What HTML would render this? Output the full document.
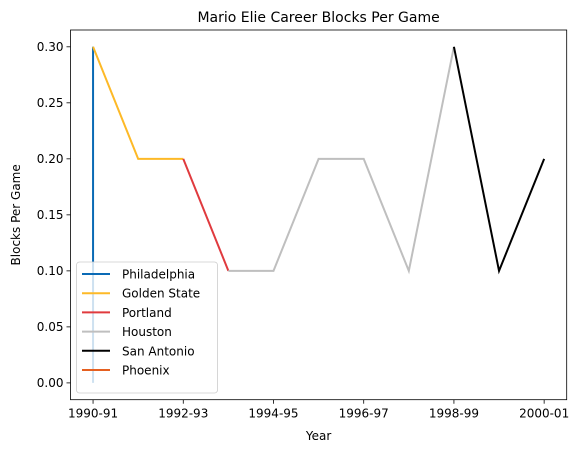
<!DOCTYPE html>
<html><head><meta charset="utf-8"><style>
html,body{margin:0;padding:0;background:#fff;}
svg{display:block;font-family:"DejaVu Sans","Liberation Sans",sans-serif;}
</style></head><body>
<svg id="chart" width="582" height="453"></svg>
<script>
const seasons = ["1990-91","1991-92","1992-93","1993-94","1994-95","1995-96","1996-97","1997-98","1998-99","1999-00","2000-01"];
const teamNames = ["Philadelphia","Golden State","Portland","Houston","San Antonio","Phoenix"];
const teamColors = ["#0a6ab5","#fdb927","#e03a3e","#bfbfbf","#000000","#e56020"];
const teamX = [[0,0],[0,1,2],[2,3],[3,4,5,6,7,8],[8,9,10],[0]];
const teamY = [[0.3,0.0],[0.3,0.2,0.2],[0.2,0.1],[0.1,0.1,0.2,0.2,0.1,0.3],[0.3,0.1,0.2],[0.0]];
const yTicks = [0,0.05,0.1,0.15,0.2,0.25,0.3];
const xTickIdx = [0,2,4,6,8,10];

const NS="http://www.w3.org/2000/svg";
const svg=document.getElementById('chart');
const L=70.5,R=566.7,T=30,B=399.7;
const xMin=-0.5,xMax=10.5,yMin=-0.015,yMax=0.315;
const xs=v=>L+(v-xMin)/(xMax-xMin)*(R-L);
const ys=v=>B-(v-yMin)/(yMax-yMin)*(B-T);
function mk(tag,attrs,parent){const e=document.createElementNS(NS,tag);for(const k in attrs)e.setAttribute(k,attrs[k]);(parent||svg).appendChild(e);return e;}

const title=mk('text',{x:(L+R)/2,y:22,'text-anchor':'middle','font-size':14});
title.textContent="Mario Elie Career Blocks Per Game";



yTicks.forEach(v=>{
  const y=ys(v);
  const t=mk('line',{x1:L-4,x2:L,y1:y,y2:y,stroke:'#000','stroke-width':0.8});
  
  
  const l=mk('text',{x:L-7,y:y+4,'text-anchor':'end','font-size':12});
  l.textContent=v.toFixed(2);
  
  
});
xTickIdx.forEach(i=>{
  const x=xs(i);
  const t=mk('line',{x1:x,x2:x,y1:B,y2:B+4,stroke:'#000','stroke-width':0.8});
  
  
  const l=mk('text',{x:x,y:B+18,'text-anchor':'middle','font-size':12});
  l.textContent=seasons[i];
  
  
});

teamNames.forEach((n,k)=>{
  const pts=teamX[k].map((x,j)=>xs(x)+','+ys(teamY[k][j])).join(' ');
  const p=mk('polyline',{points:pts,fill:'none',stroke:teamColors[k],'stroke-width':2});
  
  
});

const frame=mk('rect',{x:L,y:T,width:R-L,height:B-T,fill:'none',stroke:'#000','stroke-width':0.8});



const xt=mk('text',{x:(L+R)/2,y:440,'text-anchor':'middle','font-size':12});
xt.textContent="Year";


const yt=mk('text',{x:0,y:0,'text-anchor':'middle','font-size':12,transform:'translate(20,'+((T+B)/2)+') rotate(-90)'});
yt.textContent="Blocks Per Game";



const lg=mk('g',{});


mk('rect',{x:76.5,y:262,width:141,height:131,rx:3,fill:'#fff','fill-opacity':0.8,stroke:'#ccc','stroke-width':0.8},lg);
teamNames.forEach((n,k)=>{
  const y=274+k*19.2;
  const ln=mk('line',{x1:82,x2:110,y1:y,y2:y,stroke:teamColors[k],'stroke-width':2},lg);
  
  
  const t=mk('text',{x:122,y:y+4.5,'font-size':12},lg);
  t.textContent=n;
  
  
});
</script>
</body></html>
